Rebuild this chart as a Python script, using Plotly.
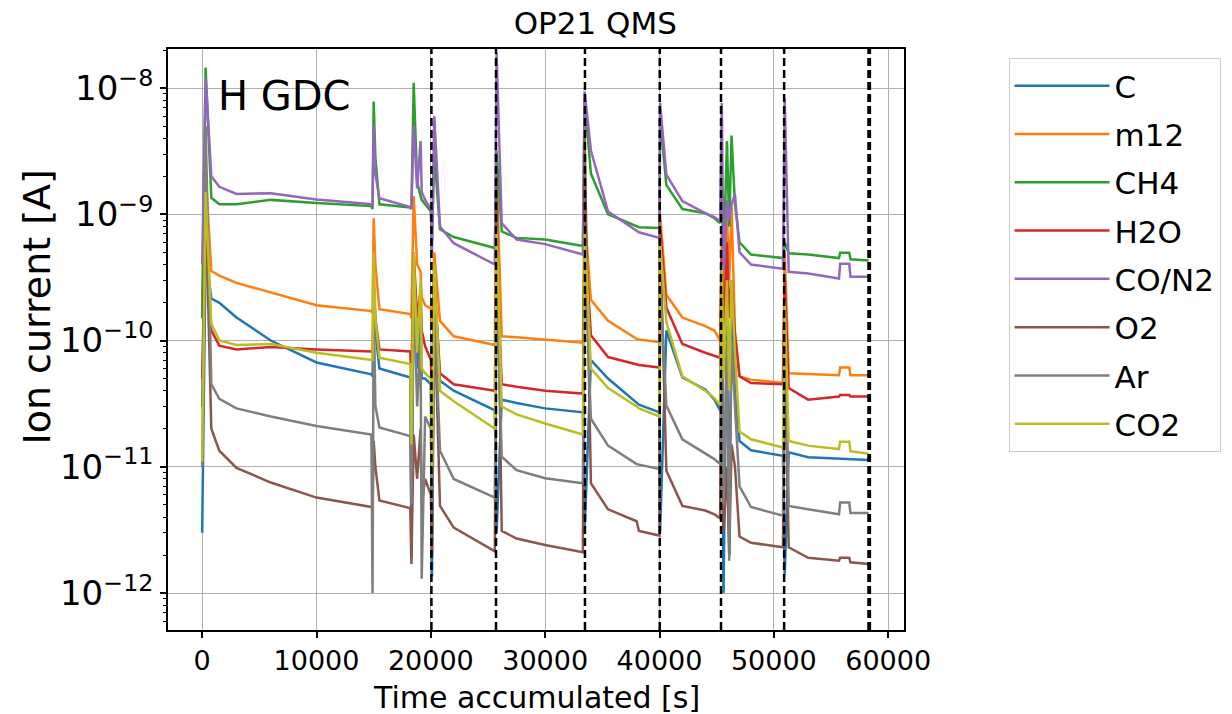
import plotly.graph_objects as go

# ---------------- data ----------------
time_s = [0, 300, 800, 1500, 3000, 6000, 10000, 14800,
          14900, 15000, 15150, 15500, 18200,
          18300, 18500, 18800, 19100, 19200, 19500, 20000, 20100, 20300,
          20800, 22000, 25600, 25750, 26200, 27500, 30000, 33300,
          33450, 34000, 35500, 38000, 38200, 40000,
          40050, 40600, 42000, 44000, 44800, 45300,
          45450, 45600, 45900, 46100, 46300, 46600, 47000, 48000, 50800,
          50950, 51300, 53000, 55700, 55800, 56600, 56700, 58300]

C = [3e-12, 5e-10, 2.15e-10, 1.99e-10, 1.52e-10, 1.0e-10, 6.7e-11, 5.4e-11,
     5.2e-11, 1.5e-10, 1.2e-10, 6e-11, 5.1e-11,
     1.9e-12, 3e-10, 6e-11, 2e-10, 5e-11, 5e-11, 4.5e-11, 1.35e-12, 3e-10,
     4.8e-11, 4.0e-11, 2.8e-11, 3e-12, 3.4e-11, 3.2e-11, 2.9e-11, 2.7e-11,
     3e-12, 7e-11, 5e-11, 3.2e-11, 3.1e-11, 2.7e-11,
     3e-12, 1.2e-10, 5.1e-11, 4.1e-11, 3.4e-11, 2.8e-11,
     3e-10, 1e-12, 2e-10, 2e-12, 2e-10, 4e-11, 1.6e-11, 1.35e-11, 1.22e-11,
     1.4e-12, 1.3e-11, 1.19e-11, 1.16e-11, 1.15e-11, 1.15e-11, 1.14e-11, 1.13e-11]

m12 = [2e-10, 2.1e-9, 3.55e-10, 3.27e-10, 2.86e-10, 2.39e-10, 1.9e-10, 1.71e-10,
       1.65e-10, 9.3e-10, 4e-10, 1.77e-10, 1.62e-10,
       1.5e-10, 1.39e-9, 4e-10, 3.5e-10, 2.2e-10, 1.9e-10, 1.8e-10, 1.2e-10, 5e-10,
       1.43e-10, 1.08e-10, 9.2e-11, 2.2e-9, 1.08e-10, 1.06e-10, 1.02e-10, 9.6e-11,
       1e-9, 2.1e-10, 1.43e-10, 1.03e-10, 1.02e-10, 9.7e-11,
       1e-9, 2.3e-10, 1.52e-10, 1.3e-10, 1.2e-10, 1.0e-10,
       8e-10, 1.5e-10, 1.0e-9, 3e-10, 1.2e-9, 1.2e-10, 5.2e-11, 4.9e-11, 4.6e-11,
       5e-10, 5.5e-11, 5.4e-11, 5.3e-11, 6.1e-11, 6.1e-11, 5.3e-11, 5.3e-11]

CH4 = [1.5e-10, 1.45e-8, 1.35e-9, 1.2e-9, 1.2e-9, 1.3e-9, 1.23e-9, 1.16e-9,
       1.1e-9, 7.8e-9, 2.8e-9, 1.2e-9, 1.13e-9,
       1.1e-9, 1.1e-8, 1.8e-9, 1.4e-9, 1.3e-9, 1.2e-9, 1.05e-9, 6e-10, 3e-9,
       7.6e-10, 6.6e-10, 5.4e-10, 3.2e-9, 7.3e-10, 6.5e-10, 6.3e-10, 5.6e-10,
       8.1e-9, 2.1e-9, 1.0e-9, 8e-10, 7.9e-10, 7.8e-10,
       5.8e-9, 1.7e-9, 1.1e-9, 1.02e-9, 9.3e-10, 8.5e-10,
       1.5e-9, 4e-10, 3.8e-9, 8e-10, 4.2e-9, 1.2e-9, 6e-10, 4.8e-10, 4.5e-10,
       6e-10, 4.9e-10, 4.8e-10, 4.5e-10, 4.95e-10, 4.95e-10, 4.4e-10, 4.3e-10]

H2O = [5e-11, 1e-9, 1.2e-10, 9.1e-11, 8.5e-11, 8.9e-11, 8.5e-11, 8.2e-11,
       8e-11, 3e-10, 1.5e-10, 8.5e-11, 8.2e-11,
       5e-11, 5e-10, 1.5e-10, 2.5e-10, 1.2e-10, 9e-11, 7e-11, 4e-11, 3e-10,
       5.5e-11, 4.5e-11, 4.0e-11, 5e-10, 4.5e-11, 4.3e-11, 4.0e-11, 3.8e-11,
       7e-10, 1.1e-10, 7.4e-11, 6.5e-11, 6.4e-11, 6.1e-11,
       8e-10, 1.82e-10, 9.4e-11, 8e-11, 7.6e-11, 7.3e-11,
       5e-10, 1e-10, 6e-10, 1.5e-10, 3e-10, 1.1e-10, 5.2e-11, 4.6e-11, 4.5e-11,
       3e-10, 4.2e-11, 3.4e-11, 3.6e-11, 3.7e-11, 3.7e-11, 3.6e-11, 3.6e-11]

CO_N2 = [4e-10, 1.2e-8, 2.0e-9, 1.65e-9, 1.45e-9, 1.47e-9, 1.31e-9, 1.2e-9,
         1.15e-9, 5.1e-9, 2.1e-9, 1.34e-9, 1.14e-9,
         1.1e-9, 5.0e-9, 1.6e-9, 3.8e-9, 1.5e-9, 1.3e-9, 1.1e-9, 5e-10, 6e-9,
         8e-10, 5.9e-10, 4.0e-10, 1.9e-8, 8.5e-10, 6.3e-10, 5.8e-10, 4.8e-10,
         9.4e-9, 3.2e-9, 1.05e-9, 7.3e-10, 7.2e-10, 6.5e-10,
         7.6e-9, 2.06e-9, 1.27e-9, 1.02e-9, 9.5e-10, 8.8e-10,
         7.6e-9, 3.4e-10, 1.3e-9, 9e-10, 1.2e-9, 1.44e-9, 5e-10, 4.0e-10, 3.7e-10,
         8.3e-9, 3.5e-10, 3.4e-10, 3.1e-10, 4.05e-10, 4.05e-10, 3.2e-10, 3.2e-10]

O2 = [3e-11, 1.3e-9, 2e-11, 1.34e-11, 9.8e-12, 7.5e-12, 5.7e-12, 4.8e-12,
      4.7e-12, 1.6e-11, 1.0e-11, 5.4e-12, 4.7e-12,
      1.7e-12, 1.8e-11, 8e-12, 2e-11, 5e-12, 8e-12, 6e-12, 2e-12, 2e-10,
      4.9e-12, 3.3e-12, 2.14e-12, 2e-9, 3.1e-12, 2.7e-12, 2.4e-12, 2.1e-12,
      4e-9, 7.4e-12, 4.6e-12, 3.7e-12, 3.1e-12, 2.85e-12,
      7e-10, 9.3e-12, 4.9e-12, 4.5e-12, 4.2e-12, 3.9e-12,
      3e-10, 3e-12, 1e-11, 2e-12, 1.5e-11, 1e-11, 2.8e-12, 2.5e-12, 2.3e-12,
      1e-10, 2.3e-12, 1.9e-12, 1.8e-12, 1.9e-12, 1.9e-12, 1.75e-12, 1.7e-12]

Ar = [1e-11, 5e-9, 4.5e-11, 3.45e-11, 2.9e-11, 2.5e-11, 2.1e-11, 1.8e-11,
      1.0e-12, 2e-10, 3.05e-11, 2.05e-11, 1.75e-11,
      5e-12, 3e-10, 3e-11, 1e-10, 1.3e-12, 2.5e-11, 2e-11, 5e-12, 2e-10,
      1.34e-11, 8e-12, 5.7e-12, 3e-10, 1.2e-11, 9.4e-12, 8.1e-12, 7.4e-12,
      5e-10, 2.4e-11, 1.47e-11, 1.05e-11, 1.04e-11, 9.6e-12,
      3e-10, 3.05e-11, 1.65e-11, 1.27e-11, 1.15e-11, 1.05e-11,
      2e-10, 5e-12, 1e-10, 1.8e-12, 1e-10, 3e-11, 7e-12, 4.8e-12, 4.1e-12,
      2e-10, 4.9e-12, 4.6e-12, 4.2e-12, 5.2e-12, 5.2e-12, 4.3e-12, 4.3e-12]

CO2 = [1.1e-11, 1.5e-9, 1.35e-10, 1.0e-10, 9.2e-11, 9.4e-11, 8e-11, 7.1e-11,
       7e-11, 5e-10, 1.5e-10, 7.3e-11, 6.5e-11,
       1.5e-11, 5e-10, 8e-11, 3e-10, 6e-11, 5.5e-11, 5e-11, 1e-11, 4e-10,
       4.0e-11, 3.3e-11, 2.0e-11, 8e-10, 3.0e-11, 2.6e-11, 2.2e-11, 1.8e-11,
       8e-10, 6e-11, 4.2e-11, 3.0e-11, 2.9e-11, 2.5e-11,
       6e-10, 1.4e-10, 5.2e-11, 4.0e-11, 3.5e-11, 3.1e-11,
       4e-10, 5e-11, 3e-10, 4e-11, 3e-10, 8e-11, 1.9e-11, 1.65e-11, 1.42e-11,
       2e-10, 1.6e-11, 1.47e-11, 1.38e-11, 1.58e-11, 1.58e-11, 1.33e-11, 1.27e-11]

series_names = ["C", "m12", "CH4", "H2O", "CO/N2", "O2", "Ar", "CO2"]
series_values = [C, m12, CH4, H2O, CO_N2, O2, Ar, CO2]
series_colors = ["#1f77b4", "#ff7f0e", "#2ca02c", "#d62728",
                 "#9467bd", "#8c564b", "#7f7f7f", "#bcbd22"]

event_times = [20050, 25700, 33480, 40020, 45380, 50900, 58280, 58400]

x_tick_vals = [0, 10000, 20000, 30000, 40000, 50000, 60000]
y_tick_vals = [1e-12, 1e-11, 1e-10, 1e-9, 1e-8]
y_tick_text = ["10<sup>\u221212</sup>", "10<sup>\u221211</sup>", "10<sup>\u221210</sup>",
               "10<sup>\u22129</sup>", "10<sup>\u22128</sup>"]

FONT = "DejaVu Sans"

fig = go.Figure()
for name, vals, col in zip(series_names, series_values, series_colors):
    fig.add_trace(go.Scatter(x=time_s, y=vals, mode="lines", name=name,
                             legendgroup=name,
                             line=dict(color=col, width=2.5)))

for t in event_times:
    fig.add_shape(type="line", xref="x", yref="paper", x0=t, x1=t, y0=0, y1=1,
                  line=dict(color="black", width=2.5, dash="8px,4px"), layer="above")

minor_vals = [m * 10.0 ** k for k in range(-13, -7) for m in range(2, 10)]

fig.update_layout(
    width=1232, height=714,
    margin=dict(l=168, r=325, t=49, b=84),
    paper_bgcolor="white", plot_bgcolor="white",
    font=dict(family=FONT, color="black"),
    title=dict(text="OP21 QMS", x=(597 - 168) / 739, xref="paper", xanchor="center",
               y=1 - 23 / 714, yanchor="middle", font=dict(size=31, family=FONT)),
    legend=dict(x=1.142, y=0.9845, xanchor="left", yanchor="top",
                bordercolor="#cccccc", borderwidth=1, bgcolor="white",
                font=dict(size=31, family=FONT), tracegroupgap=5, itemwidth=95),
    xaxis=dict(range=[-2990, 61385], tickvals=x_tick_vals,
               ticktext=[str(v) for v in x_tick_vals],
               ticks="outside", ticklen=6, tickwidth=1.5, tickcolor="black",
               showline=True, linecolor="black", linewidth=1.5, mirror=True,
               showgrid=True, gridcolor="#b0b0b0", gridwidth=1.2, zeroline=False,
               tickfont=dict(size=27, family=FONT)),
    yaxis=dict(type="log", range=[-12.293, -7.691], tickvals=y_tick_vals,
               ticktext=y_tick_text,
               ticks="outside", ticklen=6, tickwidth=1.5, tickcolor="black",
               showline=True, linecolor="black", linewidth=1.5, mirror=True,
               showgrid=True, gridcolor="#b0b0b0", gridwidth=1.2, zeroline=False,
               tickfont=dict(size=34, family=FONT),
               minor=dict(tickvals=minor_vals, ticks="outside", ticklen=3.5,
                          tickwidth=1, tickcolor="black", showgrid=False)),
    annotations=[
        dict(text="Time accumulated [s]", xref="paper", yref="paper",
             x=0.5, y=(630 - 697) / 581, xanchor="center", yanchor="middle",
             showarrow=False, font=dict(size=30, family=FONT)),
        dict(text="Ion current [A]", xref="paper", yref="paper",
             x=(36 - 168) / 739, y=1 - (307 - 49) / 581, xanchor="center",
             yanchor="middle", textangle=-90, showarrow=False,
             font=dict(size=38, family=FONT)),
        dict(text="H GDC", xref="paper", yref="paper",
             x=(285 - 168) / 739, y=1 - (96 - 49) / 581, xanchor="center",
             yanchor="middle", showarrow=False, font=dict(size=40, family=FONT)),
    ],
)

fig.write_html("out.html")
